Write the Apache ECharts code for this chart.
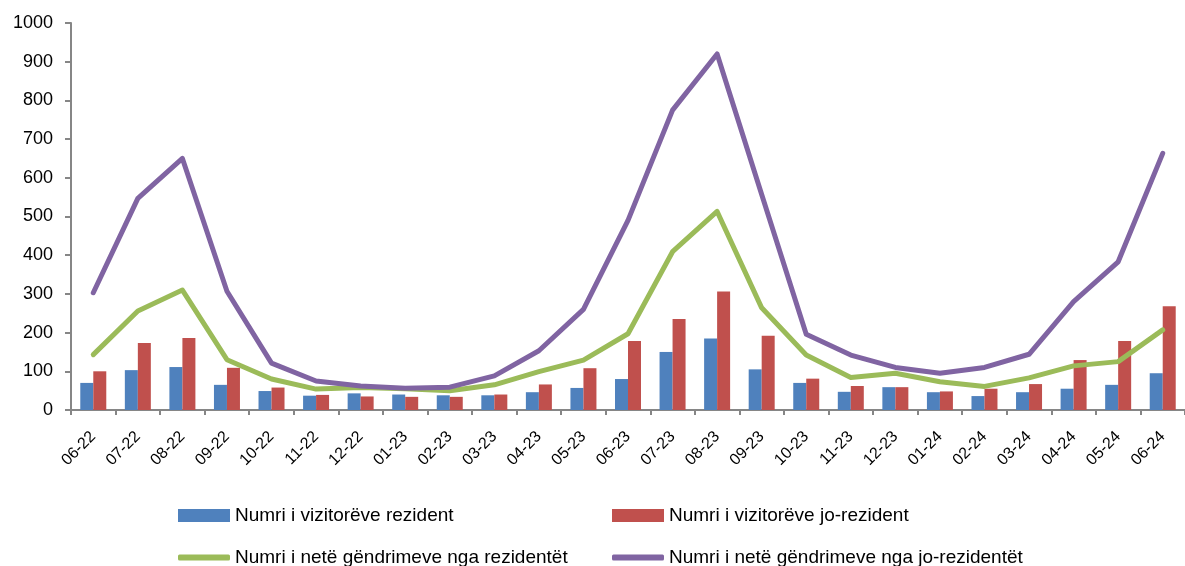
<!DOCTYPE html>
<html>
<head>
<meta charset="utf-8">
<script src="https://cdn.jsdelivr.net/npm/echarts@6/dist/echarts.min.js"></script>
<style>
html,body{margin:0;padding:0;background:#fff;}
#c{width:1185px;height:566px;}
</style>
</head>
<body>
<div id="c"></div>
<script>
var categories = ['06-22','07-22','08-22','09-22','10-22','11-22','12-22','01-23','02-23','03-23','04-23','05-23','06-23','07-23','08-23','09-23','10-23','11-23','12-23','01-24','02-24','03-24','04-24','05-24','06-24'];
var yTicks = [0,100,200,300,400,500,600,700,800,900,1000];
var residentVisitors =    [70,103,111,65,49,37,43,40,38,38,46,57,80,150,185,105,70,47,59,46,36,46,55,65,95];
var nonResidentVisitors = [100,173,186,109,58,39,35,34,34,40,66,108,178,235,306,192,81,62,59,48,55,67,129,178,268];
var residentStays =       [143,256,310,130,80,54,58,55,50,65,99,129,197,409,513,264,142,84,95,73,61,83,114,125,207];
var nonResidentStays =    [303,547,650,307,121,75,62,56,59,88,153,260,490,775,920,557,196,142,110,95,110,144,280,383,663];
var seriesNames = ['Numri i vizitorëve rezident','Numri i vizitorëve jo-rezident','Numri i netë gëndrimeve nga rezidentët','Numri i netë gëndrimeve nga jo-rezidentët'];
var colors = ['#4F81BD','#C0504D','#9BBB59','#8064A2'];

var font = 'Liberation Sans, Arial, sans-serif';
var chart = echarts.init(document.getElementById('c'), null, {renderer:'canvas'});
var legendText = {fontFamily: font, fontSize: 19, color: '#000'};
function leg(name, left, top, isLine) {
  return {data: [{name: name, icon: isLine ? 'roundRect' : 'rect'}], left: left, top: top, padding: 0,
          itemWidth: 52, itemHeight: isLine ? 6 : 13, itemGap: 3, textStyle: legendText,
          selectedMode: false};
}
chart.setOption({
  animation: false,
  color: colors,
  grid: {left: 71, right: -3, top: 23, bottom: 156, containLabel: false},
  legend: [
    leg(seriesNames[0], 178, 506, false),
    leg(seriesNames[1], 612, 506, false),
    leg(seriesNames[2], 178, 548, true),
    leg(seriesNames[3], 612, 548, true)
  ],
  xAxis: {
    type: 'category', data: categories, boundaryGap: true,
    axisLine: {lineStyle: {color: '#868686', width: 2}},
    axisTick: {show: true, length: 5, lineStyle: {color: '#868686', width: 2}},
    axisLabel: {rotate: 45, fontFamily: font, fontSize: 16, color: '#000', margin: 24, interval: 0}
  },
  yAxis: {
    type: 'value', min: 0, max: 1000, interval: 100,
    axisLine: {show: true, lineStyle: {color: '#868686', width: 2}},
    axisTick: {show: true, length: 6, lineStyle: {color: '#868686', width: 2}},
    axisLabel: {fontFamily: font, fontSize: 18, color: '#000', margin: 18,
      formatter: function(v){ return yTicks.indexOf(v) >= 0 ? String(v) : ''; }},
    splitLine: {show: false}
  },
  series: [
    {name: seriesNames[0], type: 'bar', data: residentVisitors, barWidth: 13, barGap: '0%',
     itemStyle: {color: colors[0]}},
    {name: seriesNames[1], type: 'bar', data: nonResidentVisitors, barWidth: 13, barGap: '0%',
     itemStyle: {color: colors[1]}},
    {name: seriesNames[2], type: 'line', data: residentStays, symbol: 'none', showSymbol: false,
     lineStyle: {color: colors[2], width: 5, cap: 'round', join: 'round'}, itemStyle: {color: colors[2]}, z: 3},
    {name: seriesNames[3], type: 'line', data: nonResidentStays, symbol: 'none', showSymbol: false,
     lineStyle: {color: colors[3], width: 5, cap: 'round', join: 'round'}, itemStyle: {color: colors[3]}, z: 3}
  ]
});
</script>
</body>
</html>
